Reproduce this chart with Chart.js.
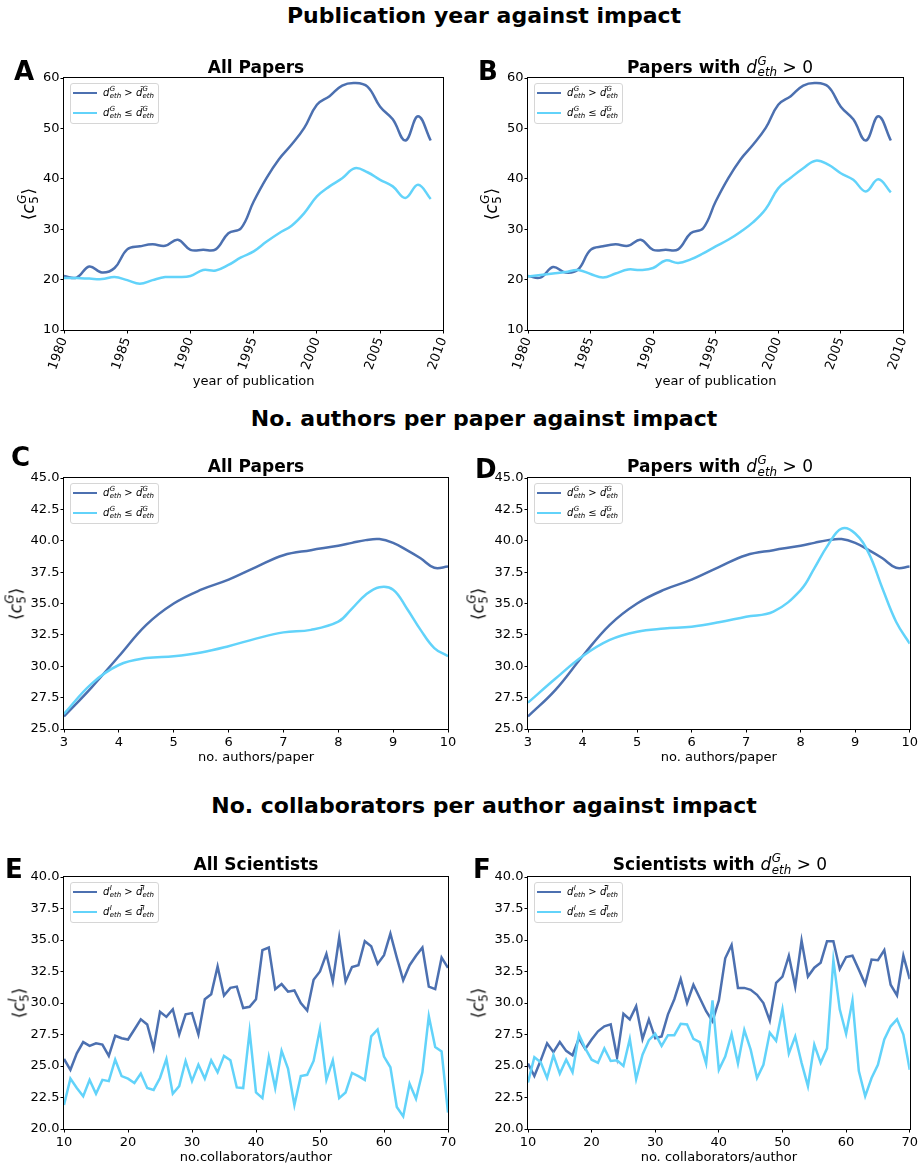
<!DOCTYPE html>
<html>
<head>
<meta charset="utf-8">
<script src="https://cdn.jsdelivr.net/npm/chart.js@4.4.1/dist/chart.umd.min.js"></script>
<style>
  body { margin: 0; background: #fff; font-family: 'DejaVu Sans', sans-serif; color: #000; }
  #page { position: relative; width: 920px; height: 1168px; overflow: hidden; }
  canvas { position: absolute; }
  .t { position: absolute; white-space: nowrap; }
  .ss { display: inline-block; line-height: 0; font-size: 0.7em; vertical-align: baseline; margin-left: 0.04em; text-align: left; }
  .ss > * { display: block; position: relative; }
  .ss > :first-child { top: -0.68em; }
  .ss > :last-child { top: 0.32em; }
  .lg { position: absolute; width: 87px; height: 39px; border: 1px solid #d6d6d6; border-radius: 3px; background: rgba(255,255,255,0.8); }
  .lg .row { position: absolute; left: 0; height: 14px; }
  .lg .hd { position: absolute; left: 2px; top: 5.75px; width: 24px; height: 2.5px; }
  .lg .lt { position: absolute; left: 32px; top: 0; font-size: 10px; line-height: 14px; white-space: nowrap; }
</style>
</head>
<body>
<div id="page"></div>
<script>
// publication year panels (A, B)
const years = [1980, 1981, 1982, 1983, 1984, 1985, 1986, 1987, 1988, 1989, 1990, 1991, 1992, 1993, 1994,
  1995, 1996, 1997, 1998, 1999, 2000, 2001, 2002, 2003, 2004, 2005, 2006, 2007, 2008, 2009];
const yearAllHigh = [20.7, 20.4, 22.6, 21.4, 22.3, 26.0, 26.6, 27.0, 26.7, 27.9, 25.9, 25.9, 26.0, 29.2, 30.2,
  35.5, 40.1, 43.9, 46.8, 50.1, 54.7, 56.4, 58.5, 59.0, 58.3, 54.3, 51.8, 47.6, 52.4, 47.6];
const yearAllLow = [20.3, 20.3, 20.2, 20.1, 20.5, 19.9, 19.2, 19.9, 20.5, 20.5, 20.7, 21.9, 21.8, 22.9, 24.4,
  25.6, 27.5, 29.2, 30.7, 33.2, 36.5, 38.5, 40.1, 42.1, 41.3, 39.8, 38.5, 36.2, 38.8, 36.0];
const yearPosHigh = [20.7, 20.4, 22.5, 21.4, 22.0, 25.9, 26.6, 27.0, 26.7, 27.9, 25.9, 25.9, 26.0, 29.2, 30.2,
  35.5, 40.1, 43.9, 46.8, 50.1, 54.7, 56.4, 58.5, 59.0, 58.3, 54.3, 51.8, 47.6, 52.4, 47.6];
const yearPosLow = [20.6, 20.9, 21.2, 21.5, 21.9, 21.1, 20.4, 21.2, 22.0, 21.9, 22.3, 23.8, 23.3, 24.0, 25.2,
  26.6, 27.9, 29.5, 31.4, 34.0, 38.1, 40.2, 42.1, 43.6, 42.8, 41.1, 39.8, 37.5, 39.9, 37.3];

// authors per paper panels (C, D)
const authors = [3, 3.5, 4, 4.5, 5, 5.5, 6, 6.5, 7, 7.5, 8, 8.25, 8.5, 8.75, 9, 9.25, 9.5, 9.75, 10];
const authAllHigh = [26.0, 28.3, 30.8, 33.3, 35.0, 36.1, 36.9, 37.9, 38.85, 39.25, 39.6, 39.83, 40.05, 40.13,
  39.83, 39.25, 38.6, 37.85, 37.95];
const authAllLow = [26.2, 28.6, 30.1, 30.65, 30.8, 31.1, 31.6, 32.2, 32.7, 32.9, 33.55, 34.6, 35.7, 36.3,
  36.1, 34.6, 32.9, 31.45, 30.8];
const authPosHigh = [26.0, 28.1, 30.8, 33.3, 35.0, 36.1, 36.9, 37.9, 38.85, 39.25, 39.6, 39.83, 40.05, 40.13,
  39.83, 39.25, 38.6, 37.85, 37.95];
const authPosLow = [27.1, 29.0, 30.8, 32.1, 32.75, 33.0, 33.15, 33.5, 33.95, 34.35, 36.07, 37.8, 39.65, 40.97,
  40.58, 38.99, 36.2, 33.55, 31.8];

// collaborators per author panels (E, F)
const collabs = [10, 11, 12, 13, 14, 15, 16, 17, 18, 19, 20, 21, 22, 23, 24, 25, 26, 27, 28, 29, 30,
  31, 32, 33, 34, 35, 36, 37, 38, 39, 40, 41, 42, 43, 44, 45, 46, 47, 48, 49, 50,
  51, 52, 53, 54, 55, 56, 57, 58, 59, 60, 61, 62, 63, 64, 65, 66, 67, 68, 69, 70];
const collAllHigh = [25.56, 24.7, 26.0, 26.9, 26.6, 26.8, 26.7, 25.8, 27.4, 27.2, 27.1,
  27.9, 28.7, 28.3, 26.4, 29.3, 28.9, 29.5, 27.5, 29.1, 29.2,
  27.5, 30.3, 30.7, 32.9, 30.6, 31.2, 31.3, 29.6, 29.7, 30.3,
  34.2, 34.4, 31.1, 31.5, 30.9, 31.0, 30.0, 29.4, 31.85, 32.5,
  33.9, 31.7, 35.2, 31.7, 32.85, 33.0, 34.9, 34.5, 33.1, 33.8,
  35.5, 33.6, 31.8, 33.0, 33.75, 34.4, 31.3, 31.1, 33.6, 32.8];
const collAllLow = [21.9, 24.0, 23.25, 22.6, 23.9, 22.8, 23.9, 23.8, 25.5, 24.2, 24.0,
  23.65, 24.4, 23.25, 23.1, 24.05, 25.55, 22.8, 23.4, 25.4, 23.8,
  25.1, 24.0, 25.45, 24.5, 25.8, 25.45, 23.3, 23.25, 27.75, 22.9,
  22.45, 25.7, 23.25, 26.2, 24.8, 21.9, 24.2, 24.3, 25.4, 27.95,
  23.9, 25.45, 22.45, 22.9, 24.45, 24.2, 23.9, 27.35, 27.9, 25.75,
  24.9, 21.75, 21.0, 23.6, 22.4, 24.5, 28.95, 26.5, 26.15, 21.3];
const collPosHigh = [25.2, 24.2, 25.45, 26.8, 26.1, 26.9, 26.2, 25.85, 27.2, 26.35, 27.1,
  27.75, 28.15, 28.3, 25.7, 29.15, 28.7, 29.75, 27.15, 28.7, 27.2,
  27.35, 29.1, 30.3, 31.9, 30.0, 31.45, 30.4, 29.35, 28.55, 30.2,
  33.55, 34.6, 31.2, 31.2, 31.05, 30.65, 30.0, 28.6, 31.6, 32.1,
  33.75, 31.3, 34.95, 32.1, 32.8, 33.2, 34.9, 34.9, 32.7, 33.65,
  33.75, 32.65, 31.5, 33.45, 33.4, 34.2, 31.45, 30.6, 33.75, 31.9];
const collPosLow = [23.7, 25.7, 25.3, 24.05, 25.85, 24.4, 25.5, 24.5, 27.5, 26.4, 25.5,
  25.25, 26.4, 25.4, 25.45, 25.0, 27.15, 23.95, 25.9, 27.05, 27.55,
  26.6, 27.45, 27.45, 28.35, 28.3, 27.15, 26.9, 25.2, 30.2, 24.7,
  25.75, 27.55, 25.2, 27.85, 26.3, 24.05, 25.1, 27.65, 27.0, 29.5,
  26.0, 27.35, 25.25, 23.4, 26.7, 25.25, 26.4, 33.4, 29.5, 27.55,
  30.2, 24.6, 22.6, 24.05, 25.1, 27.1, 28.15, 28.7, 27.5, 24.7];

const headings = ['Publication year against impact', 'No. authors per paper against impact',
  'No. collaborators per author against impact'];

const DARK = '#4c70b0';
const LIGHT = '#62d3fa';

Chart.defaults.font.family = "'DejaVu Sans', sans-serif";
Chart.defaults.font.size = 13;
Chart.defaults.color = '#000';

const page = document.getElementById('page');

// d with superscript and "eth" subscript, optional accent on the d
function dsym(sup, acc) {
  return '<i>d' + acc + '</i><span class="ss"><i>' + sup + '</i><i>eth</i></span>';
}

function addText(html, x, capY, size, css) {
  const el = document.createElement('div');
  el.className = 't';
  el.innerHTML = html;
  el.style.fontSize = size + 'px';
  el.style.lineHeight = size + 'px';
  el.style.top = (capY - 0.48 * size) + 'px';
  el.style.left = x + 'px';
  Object.assign(el.style, css || {});
  page.appendChild(el);
  return el;
}

const framePlugin = {
  id: 'frame',
  afterDraw(chart) {
    const { ctx, chartArea: a } = chart;
    ctx.save();
    ctx.strokeStyle = '#000';
    ctx.lineWidth = 1;
    ctx.strokeRect(Math.round(a.left) - 0.5, Math.round(a.top) - 0.5,
      Math.round(a.right - a.left) + 1, Math.round(a.bottom - a.top) + 1);
    ctx.restore();
  }
};

const allPapers = '<b>All Papers</b>';
const posPapers = '<b>Papers with </b>' + dsym('G', '') + ' &gt; 0';
const allSci = '<b>All Scientists</b>';
const posSci = '<b>Scientists with </b>' + dsym('G', '') + ' &gt; 0';

const panels = [
  { letter: 'A', letterX: 14, letterY: 70, title: allPapers, titleY: 66.8, canvasX: 0, canvasY: 60, canvasB: 389,
    plot: [64, 78, 448, 330], x: years, high: yearAllHigh, low: yearAllLow, xr: [1980, 2010, 5], yr: [10, 60, 10],
    rot: 70, xTitle: 'year of publication', yTitleX: 28, sup: 'G', acc: '\u0303', tension: 0.4, dec: 0 },
  { letter: 'B', letterX: 478, letterY: 70, title: posPapers, titleY: 66.8, canvasX: 460, canvasY: 60, canvasB: 389,
    plot: [528, 78, 912, 330], x: years, high: yearPosHigh, low: yearPosLow, xr: [1980, 2010, 5], yr: [10, 60, 10],
    rot: 70, xTitle: 'year of publication', yTitleX: 491, sup: 'G', acc: '\u0303', tension: 0.4, dec: 0 },
  { letter: 'C', letterX: 11, letterY: 456.5, title: allPapers, titleY: 466.3, canvasX: 0, canvasY: 460, canvasB: 765,
    plot: [64, 478, 448, 729], x: authors, high: authAllHigh, low: authAllLow, xr: [3, 10, 1], yr: [25, 45, 2.5],
    rot: 0, xTitle: 'no. authors/paper', yTitleX: 16, sup: 'G', acc: '\u0303', tension: 0.4, dec: 1 },
  { letter: 'D', letterX: 475, letterY: 468.5, title: posPapers, titleY: 466.3, canvasX: 460, canvasY: 460, canvasB: 765,
    plot: [528, 478, 912, 729], x: authors, high: authPosHigh, low: authPosLow, xr: [3, 10, 1], yr: [25, 45, 2.5],
    rot: 0, xTitle: 'no. authors/paper', yTitleX: 478, sup: 'G', acc: '\u0303', tension: 0.4, dec: 1 },
  { letter: 'E', letterX: 5, letterY: 868.5, title: allSci, titleY: 864.5, canvasX: 0, canvasY: 860, canvasB: 1165,
    plot: [64, 877, 448, 1129], x: collabs, high: collAllHigh, low: collAllLow, xr: [10, 70, 10], yr: [20, 40, 2.5],
    rot: 0, xTitle: 'no.collaborators/author', yTitleX: 19, sup: 'I', acc: '\u0304', tension: 0, dec: 1 },
  { letter: 'F', letterX: 473, letterY: 868.5, title: posSci, titleY: 864.5, canvasX: 460, canvasY: 860, canvasB: 1165,
    plot: [528, 877, 912, 1129], x: collabs, high: collPosHigh, low: collPosLow, xr: [10, 70, 10], yr: [20, 40, 2.5],
    rot: 0, xTitle: 'no. collaborators/author', yTitleX: 478, sup: 'I', acc: '\u0304', tension: 0, dec: 1 }
];

function makePanel(p) {
  const [pl, pt, pr, pb] = p.plot;
  const w = 460, h = p.canvasB - p.canvasY;
  const cv = document.createElement('canvas');
  cv.width = w; cv.height = h;
  cv.style.left = p.canvasX + 'px';
  cv.style.top = p.canvasY + 'px';
  page.appendChild(cv);

  new Chart(cv, {
    type: 'line',
    data: {
      datasets: [
        { data: p.x.map((x, i) => ({ x, y: p.high[i] })), borderColor: DARK, borderWidth: 2.5,
          pointRadius: 0, tension: p.tension, order: 1 },
        { data: p.x.map((x, i) => ({ x, y: p.low[i] })), borderColor: LIGHT, borderWidth: 2.5,
          pointRadius: 0, tension: p.tension, order: 0 }
      ]
    },
    options: {
      responsive: false,
      animation: false,
      events: [],
      layout: { padding: { left: 0, top: pt - p.canvasY, right: p.canvasX + w - pr, bottom: 0 } },
      plugins: { legend: { display: false }, tooltip: { enabled: false } },
      scales: {
        x: {
          type: 'linear', min: p.xr[0], max: p.xr[1],
          ticks: { stepSize: p.xr[2], autoSkip: false, maxRotation: p.rot, minRotation: p.rot, padding: 2,
            callback: v => String(v) },
          grid: { drawOnChartArea: false, tickLength: 3.5, tickColor: '#000', color: '#000' },
          border: { display: false },
          title: { display: true, text: p.xTitle, padding: 0, font: { size: 13 } },
          afterFit: s => { s.height = p.canvasB - pb; }
        },
        y: {
          min: p.yr[0], max: p.yr[1],
          ticks: { stepSize: p.yr[2], padding: 1, callback: v => v.toFixed(p.dec) },
          grid: { drawOnChartArea: false, tickLength: 3.5, tickColor: '#000', color: '#000' },
          border: { display: false },
          afterFit: s => { s.width = pl - p.canvasX; }
        }
      }
    },
    plugins: [framePlugin]
  });

  // panel letter and title
  addText('<b>' + p.letter + '</b>', p.letterX, p.letterY, 26);
  addText(p.title, (pl + pr) / 2, p.titleY, 17, { transform: 'translateX(-50%)' });

  // y axis title
  const yt = addText('\u27e8<i>c</i><span class="ss"><i>' + p.sup + '</i><span>5</span></span>\u27e9',
    p.yTitleX, (pt + pb) / 2, 17, {});
  yt.style.top = ((pt + pb) / 2) + 'px';
  yt.style.transform = 'translate(-50%, -50%) rotate(-90deg)';

  // legend inside the axes, upper left
  const lg = document.createElement('div');
  lg.className = 'lg';
  lg.style.left = (pl + 6) + 'px';
  lg.style.top = (pt + 5) + 'px';
  const rows = [
    [DARK, dsym(p.sup, '') + ' &gt; ' + dsym(p.sup, p.acc)],
    [LIGHT, dsym(p.sup, '') + ' \u2264 ' + dsym(p.sup, p.acc)]
  ];
  rows.forEach(([col, label], i) => {
    const row = document.createElement('div');
    row.className = 'row';
    row.style.top = (2 + i * 20) + 'px';
    row.innerHTML = '<span class="hd" style="background:' + col + '"></span><span class="lt">' + label + '</span>';
    lg.appendChild(row);
  });
  page.appendChild(lg);
}

panels.forEach(makePanel);

const headingY = [16, 419, 806];
headings.forEach((txt, i) => {
  addText('<b>' + txt + '</b>', 484, headingY[i], 22, { transform: 'translateX(-50%)' });
});
</script>
</body>
</html>
